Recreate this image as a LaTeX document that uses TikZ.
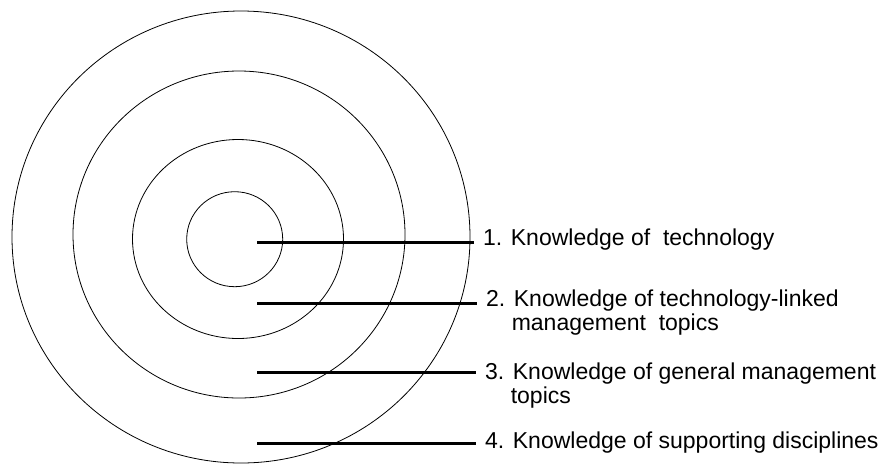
\documentclass[tikz,border=0pt]{standalone}
\usepackage{fontspec}
\setmainfont{Liberation Sans}
\usepackage{tikz}

\begin{document}
\begin{tikzpicture}[x=1pt,y=-1pt,
  ring/.style={line width=0.8pt},
  lead/.style={line width=2.6pt},
  lab/.style={anchor=base west,inner sep=0pt,align=left,font=\fontsize{23}{24}\selectfont}]
  \useasboundingbox (0,0) rectangle (885,464);
  % rings, outer to inner
  \coordinate (r4) at (241,237);
  \coordinate (r3) at (239,234.5);
  \coordinate (r2) at (238,239);
  \coordinate (r1) at (234.7,239.2);
  \draw[ring] (r4) ellipse [x radius=229,y radius=226];
  \draw[ring] (r3) ellipse [x radius=166,y radius=163.5];
  \draw[ring] (r2) ellipse [x radius=105.5,y radius=99.5];
  \draw[ring] (r1) ellipse [x radius=48,y radius=47.5];
  % labels (base is the last line)
  \node[lab] (lab1) at (483,245.7) {1. Knowledge of~ technology};
  \node[lab] (lab2) at (486,330.7) {2. Knowledge of technology-linked\\\phantom{2.\ }management~ topics};
  \node[lab] (lab3) at (485,403) {3. Knowledge of general management\\\phantom{3.\ }topics};
  \node[lab] (lab4) at (485,448) {4. Knowledge of supporting disciplines};
  % leader lines
  \foreach \y/\n in {242.5/1,303.5/2,372.5/3,443.3/4} {
    \coordinate (s\n) at (257,\y);
    \draw[lead] (s\n) -- ([xshift=-9pt]lab\n.west |- s\n);
  }
\end{tikzpicture}
\end{document}
